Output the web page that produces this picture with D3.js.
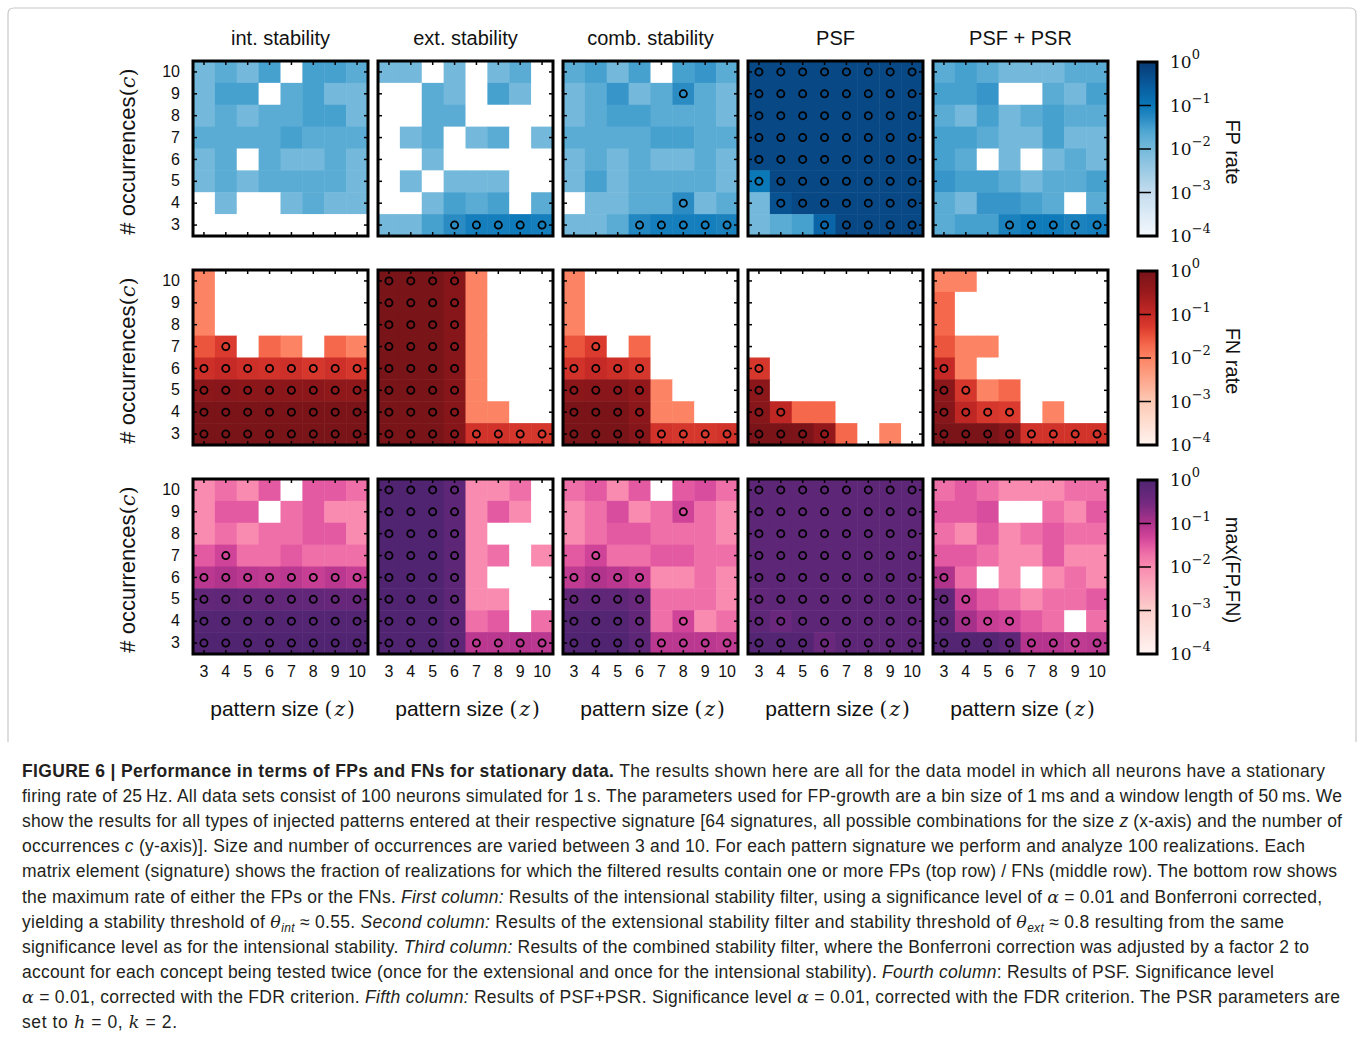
<!DOCTYPE html>
<html>
<head>
<meta charset="utf-8">
<script src="https://cdn.jsdelivr.net/npm/d3@7"></script>
<style>
  body { margin: 0; background: #fff; }
  svg text { fill: #111; }
</style>
</head>
<body>
<svg id="fig" width="1359" height="1041"></svg>
<script>
// axes
const patternSizes = [3, 4, 5, 6, 7, 8, 9, 10];
const occurrences = [10, 9, 8, 7, 6, 5, 4, 3]; // rows top -> bottom
const methods = ["int. stability", "ext. stability", "comb. stability", "PSF", "PSF + PSR"];
const rateLabels = ["FP rate", "FN rate", "max(FP,FN)"];
const cbTicks = [1, 1e-1, 1e-2, 1e-3, 1e-4];

// FP rate, rows c = 10 ... 3, columns z = 3 ... 10
const fpInt = [
  [0.01, 0.02, 0.01, 0.03, 0, 0.03, 0.03, 0.02],
  [0.01, 0.03, 0.03, 0, 0.02, 0.03, 0.01, 0.01],
  [0.01, 0.02, 0.01, 0.02, 0.02, 0.03, 0.03, 0.01],
  [0.02, 0.02, 0.02, 0.02, 0.03, 0.02, 0.02, 0.02],
  [0.01, 0.02, 0, 0.02, 0.01, 0.01, 0.02, 0.01],
  [0.01, 0.02, 0.01, 0.02, 0.02, 0.02, 0.02, 0.01],
  [0, 0.01, 0, 0, 0.01, 0.02, 0.01, 0.01],
  [0, 0, 0, 0, 0, 0, 0, 0]
];
const fpExt = [
  [0.01, 0.01, 0, 0.01, 0, 0.01, 0.02, 0],
  [0, 0, 0.02, 0.01, 0, 0.03, 0.01, 0],
  [0, 0, 0.02, 0.02, 0, 0, 0, 0],
  [0, 0.01, 0.02, 0, 0.01, 0.02, 0, 0.01],
  [0, 0, 0.01, 0, 0, 0, 0, 0],
  [0, 0.01, 0, 0.01, 0.01, 0.01, 0, 0],
  [0, 0, 0.01, 0.03, 0.02, 0.03, 0, 0.02],
  [0.01, 0.01, 0.03, 0.05, 0.08, 0.08, 0.09, 0.08]
];
const fpComb = [
  [0.02, 0.03, 0.01, 0.03, 0, 0.03, 0.04, 0.02],
  [0.01, 0.02, 0.04, 0.01, 0.02, 0.05, 0.02, 0.01],
  [0.01, 0.02, 0.03, 0.03, 0.02, 0.02, 0.02, 0.01],
  [0.02, 0.02, 0.02, 0.02, 0.03, 0.03, 0.02, 0.02],
  [0.01, 0.02, 0.01, 0.02, 0.01, 0.01, 0.02, 0.01],
  [0.01, 0.03, 0.01, 0.02, 0.02, 0.02, 0.02, 0.01],
  [0, 0.01, 0.01, 0.02, 0.02, 0.05, 0.01, 0.02],
  [0.01, 0.01, 0.02, 0.06, 0.08, 0.08, 0.08, 0.07]
];
const fpPsf = [
  [0.6, 0.6, 0.6, 0.6, 0.6, 0.6, 0.6, 0.6],
  [0.6, 0.6, 0.6, 0.6, 0.6, 0.6, 0.6, 0.6],
  [0.6, 0.6, 0.6, 0.6, 0.6, 0.6, 0.6, 0.6],
  [0.6, 0.6, 0.6, 0.6, 0.6, 0.6, 0.6, 0.6],
  [0.6, 0.6, 0.6, 0.6, 0.6, 0.6, 0.6, 0.6],
  [0.1, 0.6, 0.6, 0.6, 0.6, 0.6, 0.6, 0.6],
  [0.01, 0.4, 0.6, 0.6, 0.6, 0.6, 0.6, 0.6],
  [0.01, 0.02, 0.03, 0.2, 0.6, 0.6, 0.6, 0.6]
];
const fpPsr = [
  [0.02, 0.03, 0.02, 0.01, 0.01, 0.01, 0.02, 0.02],
  [0.03, 0.03, 0.04, 0, 0, 0.02, 0.01, 0.03],
  [0.02, 0.01, 0.03, 0.01, 0.02, 0.03, 0.02, 0.02],
  [0.03, 0.03, 0.02, 0.01, 0.01, 0.03, 0.01, 0.01],
  [0.03, 0.02, 0, 0.01, 0, 0.01, 0.02, 0.01],
  [0.04, 0.03, 0.03, 0.02, 0.01, 0.02, 0.02, 0.03],
  [0.02, 0.01, 0.04, 0.04, 0.03, 0.02, 0, 0.02],
  [0.02, 0.03, 0.03, 0.07, 0.09, 0.09, 0.07, 0.08]
];

// FN rate
const fnInt = [
  [0.01, 0, 0, 0, 0, 0, 0, 0],
  [0.01, 0, 0, 0, 0, 0, 0, 0],
  [0.01, 0, 0, 0, 0, 0, 0, 0],
  [0.03, 0.05, 0, 0.02, 0.01, 0, 0.02, 0.01],
  [0.08, 0.1, 0.08, 0.07, 0.08, 0.06, 0.08, 0.06],
  [0.5, 0.55, 0.5, 0.5, 0.5, 0.5, 0.45, 0.45],
  [0.85, 0.85, 0.85, 0.85, 0.85, 0.85, 0.85, 0.85],
  [0.9, 0.9, 0.9, 0.9, 0.9, 0.9, 0.9, 0.9]
];
const fnExt = [
  [0.9, 0.9, 0.9, 0.6, 0.01, 0, 0, 0],
  [0.9, 0.9, 0.9, 0.6, 0.01, 0, 0, 0],
  [0.9, 0.9, 0.9, 0.6, 0.01, 0, 0, 0],
  [0.9, 0.9, 0.9, 0.6, 0.01, 0, 0, 0],
  [0.9, 0.9, 0.9, 0.6, 0.01, 0, 0, 0],
  [0.9, 0.9, 0.9, 0.6, 0.01, 0, 0, 0],
  [0.9, 0.9, 0.9, 0.6, 0.01, 0.01, 0, 0],
  [0.9, 0.9, 0.9, 0.6, 0.07, 0.07, 0.06, 0.06]
];
const fnComb = [
  [0.01, 0, 0, 0, 0, 0, 0, 0],
  [0.01, 0, 0, 0, 0, 0, 0, 0],
  [0.01, 0, 0, 0, 0, 0, 0, 0],
  [0.03, 0.05, 0, 0.02, 0, 0, 0, 0],
  [0.07, 0.1, 0.08, 0.06, 0, 0, 0, 0],
  [0.5, 0.55, 0.55, 0.4, 0.01, 0, 0, 0],
  [0.85, 0.85, 0.85, 0.5, 0.01, 0.01, 0, 0],
  [0.9, 0.9, 0.9, 0.6, 0.07, 0.06, 0.06, 0.07]
];
const fnPsf = [
  [0, 0, 0, 0, 0, 0, 0, 0],
  [0, 0, 0, 0, 0, 0, 0, 0],
  [0, 0, 0, 0, 0, 0, 0, 0],
  [0, 0, 0, 0, 0, 0, 0, 0],
  [0.06, 0, 0, 0, 0, 0, 0, 0],
  [0.5, 0, 0, 0, 0, 0, 0, 0],
  [0.6, 0.12, 0.02, 0.02, 0, 0, 0, 0],
  [0.85, 0.85, 0.8, 0.4, 0.02, 0, 0.01, 0]
];
const fnPsr = [
  [0.01, 0.01, 0, 0, 0, 0, 0, 0],
  [0.02, 0, 0, 0, 0, 0, 0, 0],
  [0.02, 0, 0, 0, 0, 0, 0, 0],
  [0.03, 0.01, 0.01, 0, 0, 0, 0, 0],
  [0.1, 0.01, 0, 0, 0, 0, 0, 0],
  [0.5, 0.06, 0.01, 0.02, 0, 0, 0, 0],
  [0.6, 0.12, 0.06, 0.05, 0, 0.01, 0, 0],
  [0.85, 0.85, 0.85, 0.6, 0.07, 0.07, 0.07, 0.07]
];

const fpData = [fpInt, fpExt, fpComb, fpPsf, fpPsr];
const fnData = [fnInt, fnExt, fnComb, fnPsf, fnPsr];
// bottom row is the element-wise max of FP and FN
const maxData = fpData.map((m, k) => m.map((row, i) => row.map((v, j) => Math.max(v, fnData[k][i][j]))));
const allData = [fpData, fnData, maxData];
const sigLevel = 0.05; // cells at or above get a marker

const svg = d3.select("#fig");
const sans = "'Liberation Sans', Arial, Helvetica, sans-serif";
const serif = "'DejaVu Serif', 'Liberation Serif', serif";

// figure frame
svg.append("path")
  .attr("d", "M8,742 L8,14 Q8,8 14,8 L1350,8 Q1356,8 1356,14 L1356,742")
  .attr("fill", "none").attr("stroke", "#c8c8c8").attr("stroke-width", 1.2);

const panel = 175;
const colX = [193, 378, 563, 748, 933];
const rowY = [61, 270, 479];

const x = d3.scaleBand().domain(patternSizes).range([0, panel]);
const y = d3.scaleBand().domain(occurrences).range([0, panel]);

// log colour ramps (print-toned Blues / Reds / RdPu)
const rampDomain = [1e-4, 1e-3, 1e-2, 2e-2, 3e-2, 5e-2, 1e-1, 0.3, 1];
const ramps = [
  ["#f4f9fd", "#c4dcee", "#74b9db", "#5aacd4", "#47a1cf", "#2b8cc4", "#0b78b8", "#085a9c", "#083a74"],
  ["#fff3ee", "#fdc9b4", "#fc8464", "#f5684c", "#ec553d", "#db3b2e", "#c62a26", "#9c1a1c", "#761318"],
  ["#fff4f2", "#fcd0cc", "#f98bb0", "#ef70a8", "#e35aa3", "#cf4398", "#b0338c", "#72297f", "#4e2470"]
];
const colorScales = ramps.map(r => d3.scaleLog().domain(rampDomain).range(r).interpolate(d3.interpolateRgb).clamp(true));

allData.forEach((rowData, r) => {
  rowData.forEach((mat, c) => {
    const g = svg.append("g").attr("transform", `translate(${colX[c]},${rowY[r]})`);
    const cells = [];
    mat.forEach((row, i) => row.forEach((v, j) => cells.push({ c: occurrences[i], z: patternSizes[j], v })));

    g.selectAll("rect.cell").data(cells).join("rect")
      .attr("class", "cell")
      .attr("x", d => x(d.z)).attr("y", d => y(d.c))
      .attr("width", x.bandwidth() + 0.5).attr("height", y.bandwidth() + 0.5)
      .attr("fill", d => d.v > 0 ? colorScales[r](d.v) : "#ffffff");

    g.selectAll("circle.sig").data(cells.filter(d => d.v >= sigLevel)).join("circle")
      .attr("class", "sig")
      .attr("cx", d => x(d.z) + x.bandwidth() / 2)
      .attr("cy", d => y(d.c) + y.bandwidth() / 2)
      .attr("r", 3.6)
      .attr("fill", "none").attr("stroke", "#000").attr("stroke-width", 1.8);

    // inward ticks on all sides
    const tl = 4;
    patternSizes.forEach(z => {
      const cx = x(z) + x.bandwidth() / 2;
      g.append("line").attr("x1", cx).attr("x2", cx).attr("y1", 0).attr("y2", tl).attr("stroke", "#000").attr("stroke-width", 1.5);
      g.append("line").attr("x1", cx).attr("x2", cx).attr("y1", panel).attr("y2", panel - tl).attr("stroke", "#000").attr("stroke-width", 1.5);
    });
    occurrences.forEach(o => {
      const cy = y(o) + y.bandwidth() / 2;
      g.append("line").attr("x1", 0).attr("x2", tl).attr("y1", cy).attr("y2", cy).attr("stroke", "#000").attr("stroke-width", 1.5);
      g.append("line").attr("x1", panel).attr("x2", panel - tl).attr("y1", cy).attr("y2", cy).attr("stroke", "#000").attr("stroke-width", 1.5);
    });

    g.append("rect").attr("width", panel).attr("height", panel)
      .attr("fill", "none").attr("stroke", "#000").attr("stroke-width", 3);

    if (c === 0) {
      const ax = g.append("g").call(d3.axisLeft(y).tickSize(0).tickPadding(13));
      ax.select(".domain").remove();
      ax.selectAll("text").attr("font-family", sans).attr("font-size", 16).style("fill", "#111");
      // y label
      const yl = svg.append("text")
        .attr("transform", `translate(135,${rowY[r] + panel / 2 + 3}) rotate(-90)`)
        .attr("text-anchor", "middle").attr("font-size", 22).attr("font-family", sans);
      yl.append("tspan").text("# occurrences");
      yl.append("tspan").attr("font-family", serif).attr("font-size", 21).text("(");
      yl.append("tspan").attr("font-family", serif).attr("font-style", "italic").attr("font-size", 21).text("c");
      yl.append("tspan").attr("font-family", serif).attr("font-size", 21).text(")");
    }
    if (r === 2) {
      const ax = g.append("g").attr("transform", `translate(0,${panel})`)
        .call(d3.axisBottom(x).tickSize(0).tickPadding(12));
      ax.select(".domain").remove();
      ax.selectAll("text").attr("font-family", sans).attr("font-size", 16).style("fill", "#111");
      const xl = g.append("text").attr("x", panel / 2 + 2).attr("y", panel + 62)
        .attr("text-anchor", "middle").attr("font-size", 21).attr("font-family", sans);
      xl.append("tspan").text("pattern size ");
      xl.append("tspan").attr("font-family", serif).attr("font-size", 20).text("(");
      xl.append("tspan").attr("font-family", serif).attr("font-style", "italic").attr("font-size", 20).attr("dx", 2).text("z");
      xl.append("tspan").attr("font-family", serif).attr("font-size", 20).attr("dx", 2).text(")");
    }
    if (r === 0) {
      g.append("text").attr("x", panel / 2).attr("y", -16)
        .attr("text-anchor", "middle").attr("font-size", 20).attr("font-family", sans)
        .text(methods[c]);
    }
  });

  // colorbar
  const cbX = 1138, cbW = 19, cbY = rowY[r] + 1, cbH = panel - 1;
  const gradId = "grad" + r;
  const grad = svg.append("defs").append("linearGradient").attr("id", gradId)
    .attr("x1", 0).attr("y1", 1).attr("x2", 0).attr("y2", 0);
  d3.range(0, 1.0001, 0.025).forEach(t => {
    grad.append("stop").attr("offset", t).attr("stop-color", colorScales[r](Math.pow(10, -4 + 4 * t)));
  });
  const cb = svg.append("g").attr("transform", `translate(${cbX},${cbY})`);
  cb.append("rect").attr("width", cbW).attr("height", cbH).attr("fill", `url(#${gradId})`);
  const cy = d3.scaleLog().domain([1e-4, 1]).range([cbH, 0]);
  cbTicks.slice(1, -1).forEach(t => {
    cb.append("line").attr("x1", 0).attr("x2", 13).attr("y1", cy(t)).attr("y2", cy(t))
      .attr("stroke", "#000").attr("stroke-width", 1.5);
  });
  cb.append("rect").attr("width", cbW).attr("height", cbH)
    .attr("fill", "none").attr("stroke", "#000").attr("stroke-width", 3);
  cbTicks.forEach(t => {
    const e = Math.round(Math.log10(t));
    const tx = cb.append("text").attr("x", 32).attr("y", cy(t) + 6)
      .attr("font-family", serif).attr("font-size", 17);
    tx.append("tspan").text("10");
    tx.append("tspan").attr("dy", -9).attr("font-size", 13).text(e === 0 ? "0" : "\u2212" + (-e));
  });
  svg.append("text")
    .attr("transform", `translate(1226,${cbY + cbH / 2 + 3}) rotate(90)`)
    .attr("text-anchor", "middle").attr("font-family", sans).attr("font-size", 20)
    .text(rateLabels[r]);
});

// caption
const captionLines = [
  [["b", "FIGURE 6 | Performance in terms of FPs and FNs for stationary data."], ["n", " The results shown here are all for the data model in which all neurons have a stationary"]],
  [["n", "firing rate of 25\u2009Hz. All data sets consist of 100 neurons simulated for 1\u2009s. The parameters used for FP-growth are a bin size of 1\u2009ms and a window length of 50\u2009ms. We"]],
  [["n", "show the results for all types of injected patterns entered at their respective signature [64 signatures, all possible combinations for the size "], ["i", "z"], ["n", " (x-axis) and the number of"]],
  [["n", "occurrences "], ["i", "c"], ["n", " (y-axis)]. Size and number of occurrences are varied between 3 and 10. For each pattern signature we perform and analyze 100 realizations. Each"]],
  [["n", "matrix element (signature) shows the fraction of realizations for which the filtered results contain one or more FPs (top row) / FNs (middle row). The bottom row shows"]],
  [["n", "the maximum rate of either the FPs or the FNs. "], ["i", "First column:"], ["n", " Results of the intensional stability filter, using a significance level of "], ["m", "\u03b1"], ["n", " = 0.01 and Bonferroni corrected,"]],
  [["n", "yielding a stability threshold of "], ["m", "\u03b8"], ["sub", "int"], ["n", " \u2248 0.55. "], ["i", "Second column:"], ["n", " Results of the extensional stability filter and stability threshold of "], ["m", "\u03b8"], ["sub", "ext"], ["n", " \u2248 0.8 resulting from the same"]],
  [["n", "significance level as for the intensional stability. "], ["i", "Third column:"], ["n", " Results of the combined stability filter, where the Bonferroni correction was adjusted by a factor 2 to"]],
  [["n", "account for each concept being tested twice (once for the extensional and once for the intensional stability). "], ["i", "Fourth column"], ["n", ": Results of PSF. Significance level"]],
  [["m", "\u03b1"], ["n", " = 0.01, corrected with the FDR criterion. "], ["i", "Fifth column:"], ["n", " Results of PSF+PSR. Significance level "], ["m", "\u03b1"], ["n", " = 0.01, corrected with the FDR criterion. The PSR parameters are"]],
  [["n", "set to "], ["m", "h"], ["n", " = 0, "], ["m", "k"], ["n", " = 2."]]
];
const captionEnds = [1325, 1342, 1342, 1305, 1337, 1322, 1284, 1309, 1274, 1340, 177];

captionLines.forEach((segs, i) => {
  const t = svg.append("text").attr("x", 22).attr("y", 777 + i * 25.1)
    .attr("font-family", sans).attr("font-size", 17.5).style("fill", "#231f20");
  segs.forEach(([s, txt], k) => {
    const sp = t.append("tspan").text(txt);
    if (s === "b") sp.attr("font-weight", "bold");
    if (s === "i") sp.attr("font-style", "italic");
    if (s === "m") sp.attr("font-style", "italic").attr("font-family", serif);
    if (s === "sub") sp.attr("font-style", "italic").attr("font-size", 12).attr("dy", 4);
    if (k > 0 && segs[k - 1][0] === "sub") sp.attr("dy", -4);
  });
  t.attr("textLength", captionEnds[i] - 22).attr("lengthAdjust", "spacing");
});
</script>
</body>
</html>
